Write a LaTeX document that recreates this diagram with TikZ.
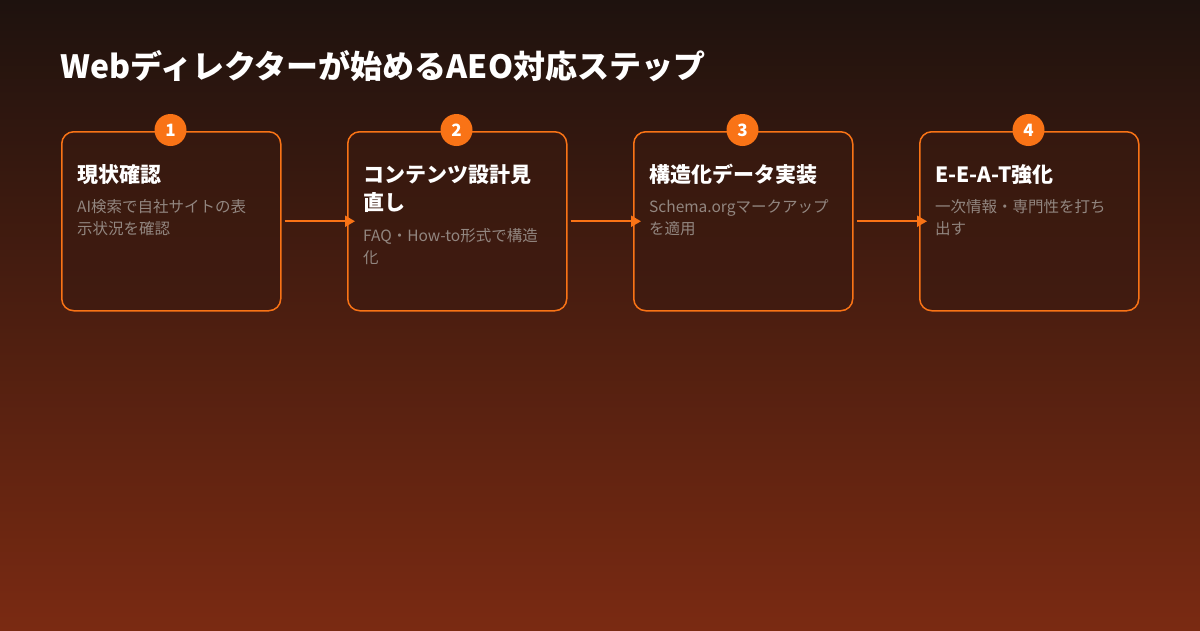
\documentclass[tikz,border=0pt]{standalone}
\usepackage{fontspec}
\setmainfont{Noto Sans CJK JP}
\usetikzlibrary{arrows.meta}
\usetikzlibrary{positioning}
\definecolor{bgtop}{HTML}{1E120E}
\definecolor{bgbot}{HTML}{7A2A12}
\definecolor{accent}{HTML}{F97316}
\definecolor{cardfill}{HTML}{3A1A10}
\definecolor{desc}{HTML}{928680}
\tikzset{
  card/.style={draw=accent, line width=1.5pt, fill=cardfill, fill opacity=0.55,
    rounded corners=12pt, minimum width=219pt, minimum height=179pt},
  badge/.style={circle, fill=accent, minimum size=32pt, inner sep=0pt,
    text=white, font=\fontsize{17}{17}\selectfont\bfseries},
  steptitle/.style={anchor=north west, align=left, inner sep=0pt, text=white,
    font=\fontsize{21}{28}\selectfont\bfseries},
  stepdesc/.style={anchor=north west, align=left, inner sep=0pt, text=desc,
    font=\fontsize{15.5}{22}\selectfont},
  flow/.style={draw=accent, line width=2pt, -{Triangle[length=10pt,width=11pt]}}
}
\begin{document}
\begin{tikzpicture}[x=1pt,y=-1pt]
  \shade[top color=bgtop, bottom color=bgbot] (0,0) rectangle (1200,630);
  \useasboundingbox (0,0) rectangle (1200,630);
  \node[anchor=west, inner sep=0pt, text=white,
    font=\fontsize{32}{38}\selectfont\bfseries] (title) at (60,66)
    {Webディレクターが始めるAEO対応ステップ};
  % cards
  \foreach \i/\x in {1/61, 2/347, 3/633, 4/919} {
    \node[card, anchor=north west] (card\i) at (\x,131) {};
    \node[badge] (badge\i) at (\x+109.5,130) {\i};
  }
  \node[steptitle] (t1) at (77,164) {現状確認};
  \node[stepdesc] (d1) at (77,199) {AI検索で自社サイトの表\\示状況を確認};
  \node[steptitle] (t2) at (363,164) {コンテンツ設計見\\直し};
  \node[stepdesc] (d2) at (363,228) {FAQ・How-to形式で構造\\化};
  \node[steptitle] (t3) at (649,164) {構造化データ実装};
  \node[stepdesc] (d3) at (649,199) {Schema.orgマークアップ\\を適用};
  \node[steptitle] (t4) at (935,164) {E-E-A-T強化};
  \node[stepdesc] (d4) at (935,199) {一次情報・専門性を打ち\\出す};
  % connectors
  \foreach \a/\b in {1/2, 2/3, 3/4}
    \draw[flow] ([xshift=3pt]card\a.east) -- ([xshift=8pt]card\b.west);
\end{tikzpicture}
\end{document}
